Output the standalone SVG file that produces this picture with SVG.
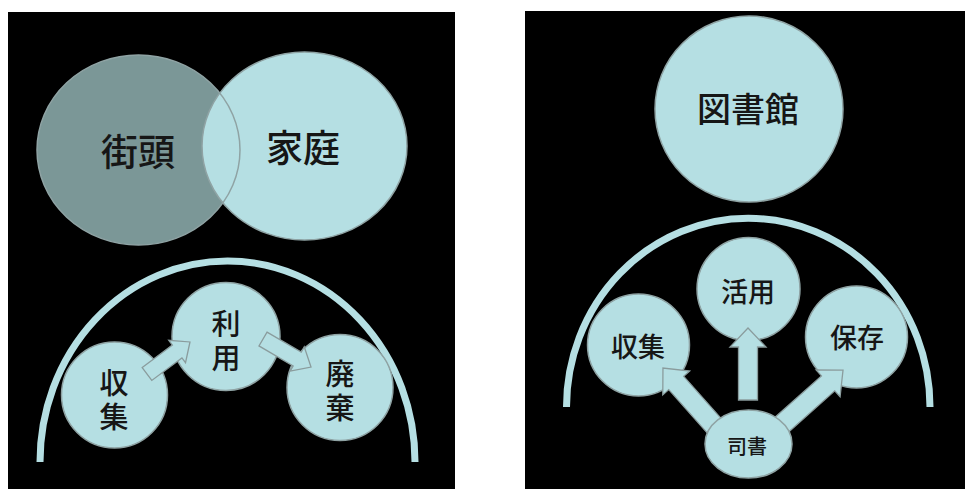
<svg xmlns="http://www.w3.org/2000/svg" width="965" height="489" viewBox="0 0 965 489">
<style>
.bg{fill:#000}
.lt{fill:#b5dfe3;stroke:#8fa3a4;stroke-width:1.5}
.dk{fill:#7b9797;stroke:#8fa3a4;stroke-width:1.5}
.arc{fill:none;stroke:#b5dfe3;stroke-width:7}
.arr{fill:#b5dfe3;stroke:#8a9c9d;stroke-width:1.3;stroke-linejoin:miter}
text{font-family:"Noto Sans CJK JP","Noto Sans",sans-serif;font-weight:500;fill:#161616;text-anchor:middle;dominant-baseline:central}
.v{writing-mode:vertical-rl;letter-spacing:5px}
</style>
<defs>
<clipPath id="clipKatei"><ellipse cx="304.5" cy="146" rx="102.5" ry="94"/></clipPath>
</defs>
<rect width="965" height="489" fill="#fff"/>
<rect class="bg" x="8" y="12" width="447" height="477"/>
<rect class="bg" x="525" y="11" width="440" height="478"/>

<!-- left panel -->
<g id="gaito">
<ellipse class="dk" cx="138.5" cy="150" rx="101.5" ry="95"/>
<text x="138" y="150" font-size="37">街頭</text>
</g>
<g id="katei">
<ellipse class="lt" cx="304.5" cy="146" rx="102.5" ry="94"/>
<ellipse cx="138.5" cy="150" rx="101.5" ry="95" fill="none" stroke="#8fa3a4" stroke-width="1.5" clip-path="url(#clipKatei)"/>
<text x="303" y="146" font-size="37">家庭</text>
</g>
<g id="frame-left">
<path class="arc" d="M40,462 A187.5,201 0 0 1 415,462"/>
</g>
<g id="shushu-l">
<circle class="lt" cx="114.5" cy="395" r="53"/>
<text class="v" x="114" y="402" font-size="29">収集</text>
</g>
<g id="riyo">
<circle class="lt" cx="226" cy="336.5" r="54"/>
<text class="v" x="226" y="343" font-size="29">利用</text>
</g>
<g id="haiki">
<circle class="lt" cx="340" cy="387.5" r="53"/>
<text class="v" x="340" y="393" font-size="29">廃棄</text>
</g>

<!-- right panel -->
<g id="toshokan">
<ellipse class="lt" cx="749" cy="109" rx="94" ry="93"/>
<text x="748" y="107" font-size="34">図書館</text>
</g>
<g id="frame-right">
<path class="arc" d="M566.5,407 A181,188 0 0 1 930,407"/>
</g>
<g id="katsuyo">
<circle class="lt" cx="748.5" cy="289" r="51.5"/>
<text x="748" y="290" font-size="27">活用</text>
</g>
<g id="shushu-r">
<circle class="lt" cx="638.5" cy="345" r="51"/>
<text x="638" y="345" font-size="27">収集</text>
</g>
<g id="hozon">
<circle class="lt" cx="856.5" cy="337" r="51"/>
<text x="857" y="336" font-size="27">保存</text>
</g>

<g id="connectors">
<path class="arr" transform="translate(147,374) rotate(-36.7)" d="M0,-8 H37.6 V-14 L53.6,0 L37.6,14 V8 H0 Z"/>
<path class="arr" transform="translate(263,339) rotate(30.3)" d="M0,-8 H39.6 V-14 L55.6,0 L39.6,14 V8 H0 Z"/>
<path class="arr" transform="translate(748,400) rotate(-90)" d="M0,-9.5 H53 V-18 L72,0 L53,18 V9.5 H0 Z"/>
<path class="arr" transform="translate(718,430) rotate(-131.6)" d="M0,-10 H62.9 V-18 L82.9,0 L62.9,18 V10 H0 Z"/>
<path class="arr" transform="translate(778,428) rotate(-41.7)" d="M0,-10 H67.1 V-18 L87.1,0 L67.1,18 V10 H0 Z"/>
</g>

<g id="shisho">
<ellipse class="lt" cx="748.5" cy="444" rx="43.5" ry="34"/>
<text x="747" y="445" font-size="20">司書</text>
</g>
</svg>
